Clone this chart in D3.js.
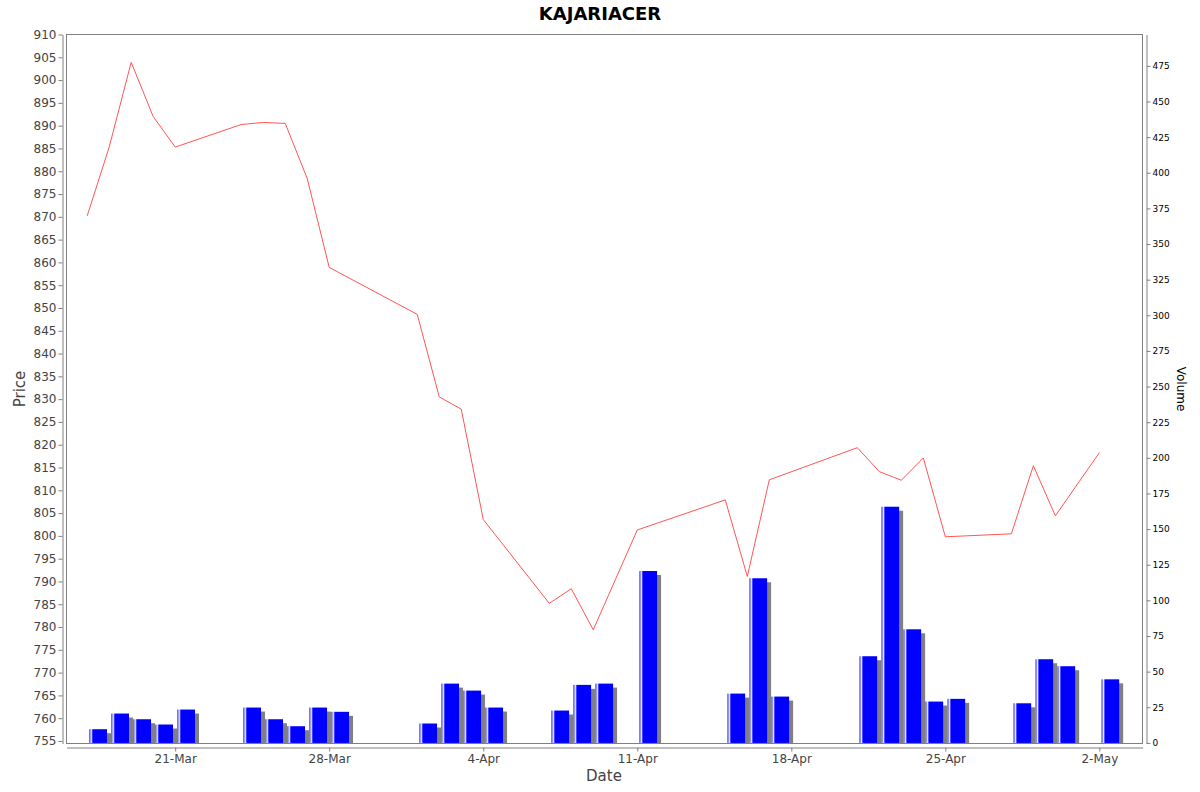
<!DOCTYPE html>
<html>
<head>
<meta charset="utf-8">
<script src="https://cdn.jsdelivr.net/npm/d3@7"></script>
<style>
  body { margin: 0; background: #fff; }
  svg { display: block; font-family: "DejaVu Sans", sans-serif; }
</style>
</head>
<body>
<svg id="chart" width="1200" height="792"></svg>
<script>
// trading days (2025)
const dates = ["2025-03-17", "2025-03-18", "2025-03-19", "2025-03-20", "2025-03-21",
    "2025-03-24", "2025-03-25", "2025-03-26", "2025-03-27", "2025-03-28",
    "2025-04-01", "2025-04-02", "2025-04-03", "2025-04-04",
    "2025-04-07", "2025-04-08", "2025-04-09", "2025-04-11",
    "2025-04-15", "2025-04-16", "2025-04-17",
    "2025-04-21", "2025-04-22", "2025-04-23", "2025-04-24", "2025-04-25",
    "2025-04-28", "2025-04-29", "2025-04-30", "2025-05-02"];

const price = [870.2, 885.3, 903.9, 892.0, 885.3,
    890.25, 890.7, 890.5, 878.4, 858.9,
    848.6, 830.5, 827.8, 803.6,
    785.2, 788.4, 779.4, 801.3,
    807.9, 791.1, 812.3,
    819.35, 814.1, 812.2, 817.1, 799.8,
    800.45, 815.4, 804.4, 818.25];

const volume = [9.6, 20.6, 16.6, 12.9, 23.4,
    24.8, 16.6, 11.7, 24.8, 21.8,
    13.6, 41.6, 36.7, 24.8,
    22.7, 40.7, 41.6, 120.6,
    34.6, 115.5, 32.5,
    60.8, 165.7, 79.7, 29.0, 30.9,
    27.8, 58.7, 53.8, 44.6];

const xTicks = ["2025-03-21", "2025-03-28", "2025-04-04", "2025-04-11",
    "2025-04-18", "2025-04-25", "2025-05-02"];
const priceTicks = d3.range(755, 911, 5);
const volumeTicks = d3.range(0, 476, 25);

const parse = d3.timeParse("%Y-%m-%d");
const DAY = 864e5;

// plot area
const pLeft = 66.5, pRight = 1142.5, pTop = 34.5, pBottom = 743.5;

const svg = d3.select("#chart");

const start = parse("2025-03-21");
const x = d3.scaleTime()
    .domain([new Date(+start - 4.94 * DAY), new Date(+start + 43.96 * DAY)])
    .range([pLeft, pRight]);

const yPrice = d3.scaleLinear().domain([754.45, 910.0]).range([pBottom, pTop]);
const yVol = d3.scaleLinear().domain([-0.42, 497]).range([pBottom, pTop]);

const rows = dates.map((d, i) => ({ date: parse(d), price: price[i], volume: volume[i] }));

// gradient like the java bar painter
const defs = svg.append("defs");
const grad = defs.append("linearGradient").attr("id", "barGrad")
    .attr("x1", "0%").attr("x2", "100%").attr("y1", "0%").attr("y2", "0%");
grad.append("stop").attr("offset", "0%").attr("stop-color", "#0000ff");
grad.append("stop").attr("offset", "10%").attr("stop-color", "#ffffff");
grad.append("stop").attr("offset", "20%").attr("stop-color", "#0000ff");
grad.append("stop").attr("offset", "100%").attr("stop-color", "#0000ff");

defs.append("clipPath").attr("id", "plotClip")
    .append("rect").attr("x", pLeft).attr("y", pTop)
    .attr("width", pRight - pLeft).attr("height", pBottom - pTop);

// plot background + outline
svg.append("rect")
    .attr("x", pLeft).attr("y", pTop)
    .attr("width", pRight - pLeft).attr("height", pBottom - pTop)
    .attr("fill", "#fff").attr("stroke", "#808080").attr("stroke-width", 1);

const plot = svg.append("g").attr("clip-path", "url(#plotClip)");

// bar spans the day with 10% margin each side
const barX0 = d => x(new Date(+d.date + 0.1 * DAY));
const barX1 = d => x(new Date(+d.date + 0.9 * DAY));

// shadows
plot.append("g").selectAll("rect")
    .data(rows).enter().append("rect")
    .attr("x", d => barX0(d) + 4)
    .attr("y", d => yVol(d.volume) + 4)
    .attr("width", d => barX1(d) - barX0(d))
    .attr("height", d => yVol(0) - yVol(d.volume))
    .attr("fill", "#808080");

// volume bars
plot.append("g").selectAll("rect")
    .data(rows).enter().append("rect")
    .attr("x", barX0)
    .attr("y", d => yVol(d.volume))
    .attr("width", d => barX1(d) - barX0(d))
    .attr("height", d => yVol(0) - yVol(d.volume))
    .attr("fill", "url(#barGrad)");

// price line
const line = d3.line().x(d => x(d.date)).y(d => yPrice(d.price));
plot.append("path")
    .datum(rows)
    .attr("d", line)
    .attr("fill", "none")
    .attr("stroke", "#ff5555")
    .attr("stroke-width", 1);

// axes
function styleAxis(g, textColor, size) {
    g.selectAll("path.domain").attr("stroke", "#808080");
    g.selectAll(".tick line").attr("stroke", "#808080");
    g.selectAll(".tick text").attr("fill", textColor)
        .attr("font-size", size).attr("font-family", "DejaVu Sans, sans-serif");
}

const gLeft = svg.append("g").attr("transform", `translate(${pLeft - 4},0)`)
    .call(d3.axisLeft(yPrice).tickValues(priceTicks).tickSize(4).tickSizeOuter(0).tickPadding(2));
styleAxis(gLeft, "#444", 12);

const gRight = svg.append("g").attr("transform", `translate(${pRight + 4},0)`)
    .call(d3.axisRight(yVol).tickValues(volumeTicks).tickSize(4).tickSizeOuter(0).tickPadding(2));
styleAxis(gRight, "#000", 9);

const gBottom = svg.append("g").attr("transform", `translate(0,${pBottom + 4})`)
    .call(d3.axisBottom(x).tickValues(xTicks.map(parse))
        .tickFormat(d3.timeFormat("%-d-%b")).tickSize(4).tickSizeOuter(0).tickPadding(3));
styleAxis(gBottom, "#444", 12);

// titles
svg.append("text")
    .attr("x", 600).attr("y", 19.5)
    .attr("text-anchor", "middle")
    .attr("font-size", 18).attr("font-weight", "bold")
    .attr("fill", "#000")
    .text("KAJARIACER");

svg.append("text")
    .attr("x", 604).attr("y", 781)
    .attr("text-anchor", "middle")
    .attr("font-size", 15).attr("fill", "#444")
    .text("Date");

svg.append("text")
    .attr("transform", "translate(25,389) rotate(-90)")
    .attr("text-anchor", "middle")
    .attr("font-size", 15).attr("fill", "#444")
    .text("Price");

svg.append("text")
    .attr("transform", "translate(1177,389) rotate(90)")
    .attr("text-anchor", "middle")
    .attr("font-size", 12).attr("fill", "#000")
    .text("Volume");
</script>
</body>
</html>
